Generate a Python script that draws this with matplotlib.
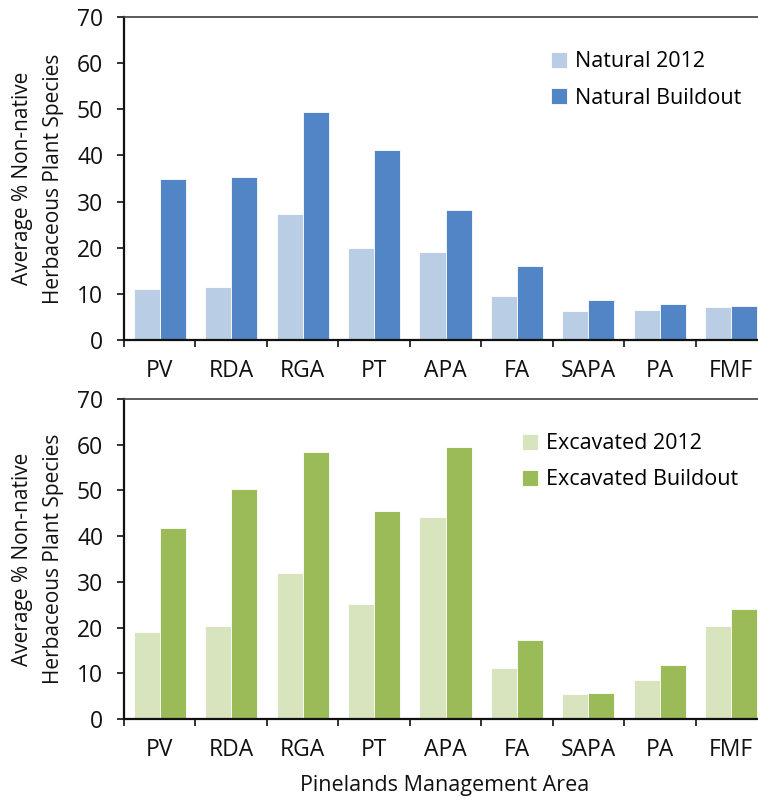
import numpy as np
import matplotlib
matplotlib.use('Agg')
import matplotlib.pyplot as plt

plt.rcParams['font.family'] = ['Open Sans', 'DejaVu Sans']

areas = ['PV', 'RDA', 'RGA', 'PT', 'APA', 'FA', 'SAPA', 'PA', 'FMF']
natural_2012 = [11.0, 11.4, 27.4, 19.9, 19.0, 9.6, 6.3, 6.6, 7.2]
natural_buildout = [35.0, 35.3, 49.5, 41.2, 28.2, 16.1, 8.6, 7.9, 7.3]
excavated_2012 = [19.1, 20.3, 32.0, 25.2, 44.2, 11.2, 5.5, 8.5, 20.4]
excavated_buildout = [41.7, 50.3, 58.4, 45.4, 59.4, 17.2, 5.6, 11.8, 24.0]

W, H = 758, 802
fig = plt.figure(figsize=(W / 100, H / 100), dpi=100)

x = np.arange(len(areas)) + 0.5
bw = 0.365


def panel(rect, s1, s2, c1, c2, labels, legend_xy):
    ax = fig.add_axes(rect)
    ax.bar(x - bw / 2, s1, bw, color=c1, edgecolor='white', linewidth=0.6, label=labels[0])
    ax.bar(x + bw / 2, s2, bw, color=c2, edgecolor='white', linewidth=0.6, label=labels[1])
    ax.set_xlim(0, len(areas))
    ax.set_ylim(0, 70)
    ax.set_yticks(range(0, 71, 10))
    ax.set_xticks(x)
    ax.set_xticklabels(areas)
    ax.set_xticks(np.arange(len(areas) + 1), minor=True)
    ax.tick_params(axis='x', which='major', length=0, pad=14, labelsize=16.5, colors='#111111')
    ax.tick_params(axis='x', which='minor', length=5, width=1.2, direction='out', color='#111111')
    ax.tick_params(axis='y', length=5, width=1.2, direction='out', pad=10, labelsize=16.5, colors='#111111')
    for s in ['left', 'bottom']:
        ax.spines[s].set_linewidth(1.6)
        ax.spines[s].set_color('#111111')
    ax.spines['right'].set_visible(False)
    ax.spines['top'].set_color('#404040')
    ax.spines['top'].set_linewidth(1.2)
    ax.set_ylabel('Average % Non-native\nHerbaceous Plant Species', fontsize=15,
                  linespacing=1.6, color='#111111')
    ax.yaxis.set_label_coords(-60 / 643, 0.5)
    ax.legend(loc='upper left', bbox_to_anchor=legend_xy, frameon=False, fontsize=15.5,
              handlelength=0.75, handleheight=0.75, handletextpad=0.4, labelspacing=0.7,
              borderaxespad=0)
    return ax


left = 124 / W
width = 643 / W
top_ax = panel([left, (H - 340) / H, width, 323 / H], natural_2012, natural_buildout,
               '#B9CDE5', '#5185C5', ['Natural 2012', 'Natural Buildout'], (0.65, 0.92))
bot_ax = panel([left, (H - 719) / H, width, 320 / H], excavated_2012, excavated_buildout,
               '#D7E4BD', '#9BBB59', ['Excavated 2012', 'Excavated Buildout'], (0.605, 0.92))
bot_ax.set_xlabel('Pinelands Management Area', fontsize=15.5, color='#111111')
bot_ax.xaxis.set_label_coords((445 - 124) / 643, -0.175)

fig.savefig('out.png', dpi=100)
